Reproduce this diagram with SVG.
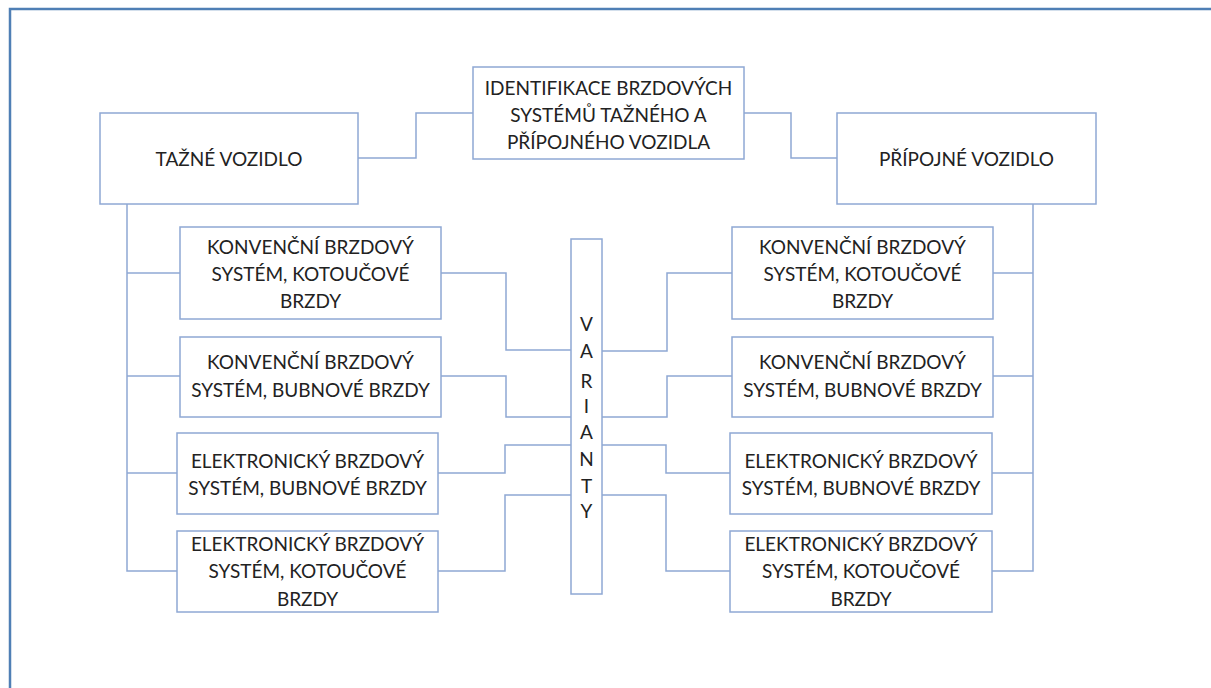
<svg xmlns="http://www.w3.org/2000/svg" width="1211" height="688" viewBox="0 0 1211 688">
<style>
.box{fill:#ffffff;stroke:#8fa8d4;stroke-width:1.5}
.ln{fill:none;stroke:#8fa8d4;stroke-width:1.5}
.t{font-family:Lato,"Liberation Sans",sans-serif;font-size:19px;fill:#222222;text-anchor:middle}
</style>
<rect x="0" y="0" width="1211" height="688" fill="#ffffff"/>
<path d="M10,688 V9 H1211" fill="none" stroke="#4f7fb5" stroke-width="2.5"/>
<g id="connectors">
<polyline class="ln" points="358,158 416,158 416,113 473,113"/>
<polyline class="ln" points="744,113 791,113 791,158 837,158"/>
<polyline class="ln" points="127,204 127,571 177,571"/>
<line class="ln" x1="127" y1="273" x2="180" y2="273"/>
<line class="ln" x1="127" y1="376" x2="180" y2="376"/>
<line class="ln" x1="127" y1="473" x2="177" y2="473"/>
<polyline class="ln" points="1033,204 1033,571 992,571"/>
<line class="ln" x1="993" y1="273" x2="1033" y2="273"/>
<line class="ln" x1="993" y1="376" x2="1033" y2="376"/>
<line class="ln" x1="992" y1="473" x2="1033" y2="473"/>
<polyline class="ln" points="441,273 506,273 506,350 571,350"/>
<polyline class="ln" points="441,376 506,376 506,417 571,417"/>
<polyline class="ln" points="438,473 505,473 505,445 571,445"/>
<polyline class="ln" points="438,571 505,571 505,495 571,495"/>
<polyline class="ln" points="602,351 667,351 667,273 732,273"/>
<polyline class="ln" points="602,417 667,417 667,376 732,376"/>
<polyline class="ln" points="602,445 666,445 666,473 730,473"/>
<polyline class="ln" points="602,495 666,495 666,571 730,571"/>
</g>
<g id="tazne">
<rect class="box" x="100" y="113" width="258" height="91"/>
<text class="t" x="229" y="166">TAŽNÉ VOZIDLO</text>
</g>
<g id="identifikace">
<rect class="box" x="473" y="67" width="271" height="92"/>
<text class="t" x="608.5" y="95">IDENTIFIKACE BRZDOVÝCH</text>
<text class="t" x="608.5" y="122">SYSTÉMŮ TAŽNÉHO A</text>
<text class="t" x="608.5" y="149">PŘÍPOJNÉHO VOZIDLA</text>
</g>
<g id="pripojne">
<rect class="box" x="837" y="113" width="259" height="91"/>
<text class="t" x="966.5" y="166">PŘÍPOJNÉ VOZIDLO</text>
</g>
<g id="l1">
<rect class="box" x="180" y="227" width="261" height="92"/>
<text class="t" x="310.5" y="254">KONVENČNÍ BRZDOVÝ</text>
<text class="t" x="310.5" y="281">SYSTÉM, KOTOUČOVÉ</text>
<text class="t" x="310.5" y="308">BRZDY</text>
</g>
<g id="l2">
<rect class="box" x="180" y="337" width="261" height="80"/>
<text class="t" x="310.5" y="369">KONVENČNÍ BRZDOVÝ</text>
<text class="t" x="310.5" y="397">SYSTÉM, BUBNOVÉ BRZDY</text>
</g>
<g id="l3">
<rect class="box" x="177" y="433" width="261" height="81"/>
<text class="t" x="307.5" y="468">ELEKTRONICKÝ BRZDOVÝ</text>
<text class="t" x="307.5" y="495">SYSTÉM, BUBNOVÉ BRZDY</text>
</g>
<g id="l4">
<rect class="box" x="177" y="531" width="261" height="81"/>
<text class="t" x="307.5" y="551">ELEKTRONICKÝ BRZDOVÝ</text>
<text class="t" x="307.5" y="578">SYSTÉM, KOTOUČOVÉ</text>
<text class="t" x="307.5" y="606">BRZDY</text>
</g>
<g id="varianty">
<rect class="box" x="571" y="239" width="31" height="355"/>
<text class="t" x="586.5" y="331">V</text>
<text class="t" x="586.5" y="358">A</text>
<text class="t" x="586.5" y="388">R</text>
<text class="t" x="586.5" y="413">I</text>
<text class="t" x="586.5" y="439">A</text>
<text class="t" x="586.5" y="466">N</text>
<text class="t" x="586.5" y="493">T</text>
<text class="t" x="586.5" y="518">Y</text>
</g>
<g id="r1">
<rect class="box" x="732" y="227" width="261" height="92"/>
<text class="t" x="862.5" y="254">KONVENČNÍ BRZDOVÝ</text>
<text class="t" x="862.5" y="281">SYSTÉM, KOTOUČOVÉ</text>
<text class="t" x="862.5" y="308">BRZDY</text>
</g>
<g id="r2">
<rect class="box" x="732" y="337" width="261" height="80"/>
<text class="t" x="862.5" y="369">KONVENČNÍ BRZDOVÝ</text>
<text class="t" x="862.5" y="397">SYSTÉM, BUBNOVÉ BRZDY</text>
</g>
<g id="r3">
<rect class="box" x="730" y="433" width="262" height="81"/>
<text class="t" x="861" y="468">ELEKTRONICKÝ BRZDOVÝ</text>
<text class="t" x="861" y="495">SYSTÉM, BUBNOVÉ BRZDY</text>
</g>
<g id="r4">
<rect class="box" x="730" y="531" width="262" height="81"/>
<text class="t" x="861" y="551">ELEKTRONICKÝ BRZDOVÝ</text>
<text class="t" x="861" y="578">SYSTÉM, KOTOUČOVÉ</text>
<text class="t" x="861" y="606">BRZDY</text>
</g>
</svg>
